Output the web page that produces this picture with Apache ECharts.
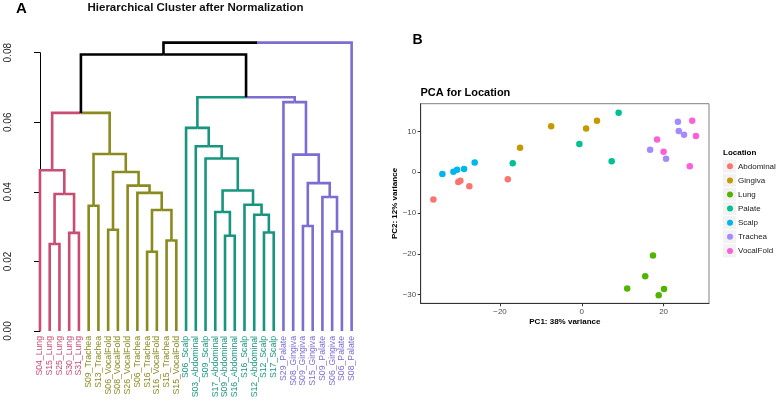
<!DOCTYPE html>
<html><head><meta charset="utf-8">
<script src="https://cdn.jsdelivr.net/npm/echarts@6/dist/echarts.min.js"></script>
<style>html,body{margin:0;padding:0;background:#fff}#c{width:778px;height:402px}</style>
</head><body><div id="c"></div>
<script>
// ---------- Panel A: dendrogram data ----------
const leafLabels = [
  'S04_Lung','S15_Lung','S25_Lung','S30_Lung','S31_Lung',
  'S09_Trachea','S13_Trachea','S06_VocalFold','S08_VocalFold','S26_VocalFold','S06_Trachea','S16_Trachea','S16_VocalFold','S15_Trachea','S15_VocalFold',
  'S06_Scalp','S03_Abdominal','S09_Scalp','S17_Abdominal','S09_Abdominal','S16_Abdominal','S16_Scalp','S12_Abdominal','S12_Scalp','S17_Scalp',
  'S29_Palate','S08_Gingiva','S09_Gingiva','S15_Gingiva','S09_Palate','S06_Gingiva','S06_Palate','S08_Palate'
];
const leafCluster = [0,0,0,0,0, 1,1,1,1,1,1,1,1,1,1, 2,2,2,2,2,2,2,2,2,2, 3,3,3,3,3,3,3,3];
const clusterColors = ['#C94C72','#8A8A1F','#17957F','#7B6DD2'];
// hclust-style merges: negative = leaf (1-based), positive = earlier merge (1-based)
const mergeLeft  = [-2,-4, 1,-1,-6,-8,-12,-14, 7,-11,-10, 6, 5, 4,-20,-19,-24,-23,-22,16,-18,-17,-16,-28,-31,-30,24,-27,-26,23,14,31];
const mergeRight = [-3,-5, 2, 3,-7,-9,-13,-15, 8,  9, 10,11,12,13,-21, 15,-25, 17, 18,19, 20, 21, 22,-29,-32, 25,26, 27, 28,29,30,-33];
const mergeHeight = [0.0250,0.0282,0.0394,0.0462,0.0360,0.0291,0.0228,0.0260,0.0348,0.0397,0.0418,0.0457,0.0509,0.0627,
  0.0274,0.0342,0.0283,0.0334,0.0363,0.0404,0.0496,0.0531,0.0584,
  0.0302,0.0286,0.0385,0.0425,0.0507,0.0658,0.0672,0.0795,0.0829];
const heightTicks = [0, 0.02, 0.04, 0.06, 0.08];

// ---------- Panel B: PCA data ----------
const locations = ['Abdominal','Gingiva','Lung','Palate','Scalp','Trachea','VocalFold'];
const locationColors = ['#F8766D','#C49A00','#53B400','#00C094','#00B6EB','#A58AFF','#FB61D7'];
const pc1Abdominal = [-36.3,-30.2,-29.7,-27.5,-18.1];
const pc2Abdominal = [-6.7,-2.4,-2.1,-3.4,-1.7];
const pc1Gingiva = [-15.1,-7.5,1.05,3.7];
const pc2Gingiva = [6.0,11.3,10.7,12.6];
const pc1Lung = [17.4,15.5,11.1,20.1,18.8];
const pc2Lung = [-20.4,-25.5,-28.5,-28.6,-30.1];
const pc1Palate = [-16.9,-0.6,7.3,9.0];
const pc2Palate = [2.2,6.9,2.7,14.6];
const pc1Scalp = [-34.1,-31.4,-30.5,-28.8,-26.2];
const pc2Scalp = [-0.4,0.1,0.6,0.8,2.4];
const pc1Trachea = [16.7,20.6,23.5,23.7,25.0];
const pc2Trachea = [5.5,3.3,12.4,10.1,9.2];
const pc1VocalFold = [18.4,20.0,26.4,27.0,27.9];
const pc2VocalFold = [8.0,5.0,1.5,12.6,8.9];
const pcXTicks = [-20, 0, 20];
const pcYTicks = [-30, -20, -10, 0, 10];

const pcX = [pc1Abdominal,pc1Gingiva,pc1Lung,pc1Palate,pc1Scalp,pc1Trachea,pc1VocalFold];
const pcY = [pc2Abdominal,pc2Gingiva,pc2Lung,pc2Palate,pc2Scalp,pc2Trachea,pc2VocalFold];

// ---------- build dendrogram segments ----------
const nodeX = [], nodeH = [], nodeC = [];
function info(v){
  if (v < 0) { const i = -v - 1; return {x: i, h: 0, c: leafCluster[i]}; }
  const m = v - 1; return {x: nodeX[m], h: nodeH[m], c: nodeC[m]};
}
const segs = [];
for (let m = 0; m < mergeLeft.length; m++) {
  const a = info(mergeLeft[m]), b = info(mergeRight[m]);
  const x = (a.x + b.x) / 2, h = mergeHeight[m];
  nodeX[m] = x; nodeH[m] = h; nodeC[m] = (a.c === b.c) ? a.c : -1;
  segs.push([a.x, a.h, x, h, a.c]);
  segs.push([b.x, b.h, x, h, b.c]);
}

const FONT = '"Liberation Sans", Arial, Helvetica, sans-serif';
const minus = v => (v < 0 ? '\u2212' + Math.abs(v) : String(v));

const chart = echarts.init(document.getElementById('c'), null, {renderer: 'canvas'});
chart.setOption({
  animation: false,
  textStyle: {fontFamily: FONT},
  title: [
    {text: 'A', left: 16, top: 1, padding: 0, textStyle: {fontSize: 15, fontWeight: 'bold', color: '#000', fontFamily: FONT}},
    {text: 'Hierarchical Cluster after Normalization', left: 195.5, textAlign: 'center', top: 2, padding: 0,
     textStyle: {fontSize: 11.5, fontWeight: 'bold', color: '#111', fontFamily: FONT}},
    {text: 'B', left: 412.5, top: 33.5, padding: 0, textStyle: {fontSize: 14, fontWeight: 'bold', color: '#000', fontFamily: FONT}},
    {text: 'PCA for Location', left: 420.5, top: 87.5, padding: 0, textStyle: {fontSize: 11, fontWeight: 'bold', color: '#000', fontFamily: FONT}},
    {text: 'Location', left: 723, top: 148.5, padding: 0, textStyle: {fontSize: 8, fontWeight: 'bold', color: '#000', fontFamily: FONT}}
  ],
  grid: [
    {left: 35.1, top: 52.7, width: 321.4, height: 278.3, containLabel: false, outerBoundsMode: 'none'},
    {left: 420.7, top: 103.7, width: 288.3, height: 199.6, show: true, borderColor: '#808080', borderWidth: 1, backgroundColor: '#fff', outerBoundsMode: 'none'}
  ],
  xAxis: [
    {type: 'category', gridIndex: 0, data: leafLabels, boundaryGap: true,
     axisLine: {show: false}, axisTick: {show: false},
     axisLabel: {interval: 0, rotate: 90, margin: 5, fontSize: 8.7, fontFamily: FONT,
       color: (v, i) => clusterColors[leafCluster[i]]}},
    {type: 'value', gridIndex: 0, min: -0.5, max: leafLabels.length - 0.5, show: false},
    {type: 'value', gridIndex: 1, min: -39.4, max: 31.1, splitLine: {show: false},
     axisLine: {onZero: false, lineStyle: {color: '#333', width: 1}},
     axisTick: {customValues: pcXTicks, length: 3, lineStyle: {color: '#333'}},
     axisLabel: {customValues: pcXTicks, formatter: minus, fontSize: 8, color: '#4D4D4D', margin: 4.5, fontFamily: FONT},
     name: 'PC1: 38% variance', nameLocation: 'middle', nameGap: 14,
     nameTextStyle: {fontSize: 8, fontWeight: 'bold', color: '#000', fontFamily: FONT}}
  ],
  yAxis: [
    {type: 'value', gridIndex: 0, min: 0, max: 0.08, interval: 0.02, offset: 12.4,
     splitLine: {show: false},
     axisLine: {show: true, lineStyle: {color: '#000', width: 1}},
     axisTick: {show: true, length: 6, lineStyle: {color: '#000'}},
     axisLabel: {rotate: 90, margin: 9, fontSize: 10, color: '#222', fontFamily: FONT,
       formatter: v => v.toFixed(2)}},
    {type: 'value', gridIndex: 1, min: -32.1, max: 16.8, splitLine: {show: false},
     axisLine: {onZero: false, lineStyle: {color: '#333', width: 1}},
     axisTick: {customValues: pcYTicks, length: 3, lineStyle: {color: '#333'}},
     axisLabel: {customValues: pcYTicks, formatter: minus, fontSize: 8, color: '#4D4D4D', margin: 4.5, fontFamily: FONT},
     name: 'PC2: 12% variance', nameLocation: 'middle', nameGap: 16, nameRotate: 90,
     nameTextStyle: {fontSize: 8, fontWeight: 'bold', color: '#000', fontFamily: FONT}}
  ],
  legend: [
    {data: locations, orient: 'vertical', left: 723, top: 159.7, padding: 0, icon: 'rect',
     itemWidth: 13, itemHeight: 13, itemGap: 1.1, selectedMode: false,
     itemStyle: {color: '#F2F2F2'}, formatter: () => '', textStyle: {fontSize: 1}},
    {data: locations, orient: 'vertical', left: 727, top: 162.3, padding: 0, icon: 'circle',
     itemWidth: 6, itemHeight: 6, itemGap: 6.1, selectedMode: false,
     textStyle: {fontSize: 8, color: '#1A1A1A', fontFamily: FONT}}
  ],
  series: [
    {type: 'custom', xAxisIndex: 1, yAxisIndex: 0, clip: false, silent: true,
     data: segs,
     encode: {x: [0, 2], y: [1, 3]},
     renderItem: (params, api) => {
       const p0 = api.coord([api.value(0), api.value(1)]);
       const p1 = api.coord([api.value(0), api.value(3)]);
       const p2 = api.coord([api.value(2), api.value(3)]);
       const c = api.value(4);
       return {type: 'polyline', shape: {points: [p0, p1, p2]},
         style: {stroke: c < 0 ? '#000' : clusterColors[c], lineWidth: 2.6, fill: null, lineJoin: 'miter', lineCap: 'butt'}};
     }}
  ].concat(locations.map((loc, k) => ({
    name: loc, type: 'scatter', xAxisIndex: 2, yAxisIndex: 1, symbolSize: 6.5,
    itemStyle: {color: locationColors[k], opacity: 1},
    data: pcX[k].map((x, i) => [x, pcY[k][i]])
  })))
});
</script></body></html>
